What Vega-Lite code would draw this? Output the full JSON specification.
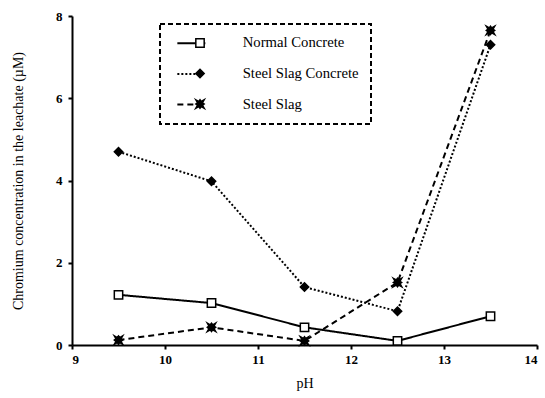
{
  "$schema": "https://vega.github.io/schema/vega-lite/v6.json",
  "autosize": "none",
  "width": 465,
  "height": 329,
  "padding": {"left": 72, "top": 16, "right": 8, "bottom": 53},
  "background": "white",
  "config": {
    "view": {"stroke": null},
    "font": "Liberation Serif",
    "axis": {"grid": false, "domainColor": "black", "domainWidth": 2, "tickColor": "black", "tickWidth": 2, "tickSize": 4, "labelFont": "Liberation Serif", "labelFontWeight": "bold", "labelFontSize": 13, "labelColor": "black", "titleFont": "Liberation Serif", "titleFontWeight": "normal", "titleFontSize": 14, "titleColor": "black"},
    "legend": {"strokeDash": [5, 3], "strokeWidth": 2}
  },
  "data": {"values": [
    {"pH": 9.5, "conc": 1.22, "series": "Normal Concrete"},
    {"pH": 10.5, "conc": 1.02, "series": "Normal Concrete"},
    {"pH": 11.5, "conc": 0.43, "series": "Normal Concrete"},
    {"pH": 12.5, "conc": 0.1, "series": "Normal Concrete"},
    {"pH": 13.5, "conc": 0.7, "series": "Normal Concrete"},
    {"pH": 9.5, "conc": 4.7, "series": "Steel Slag Concrete"},
    {"pH": 10.5, "conc": 3.98, "series": "Steel Slag Concrete"},
    {"pH": 11.5, "conc": 1.41, "series": "Steel Slag Concrete"},
    {"pH": 12.5, "conc": 0.82, "series": "Steel Slag Concrete"},
    {"pH": 13.5, "conc": 7.3, "series": "Steel Slag Concrete"},
    {"pH": 9.5, "conc": 0.12, "series": "Steel Slag"},
    {"pH": 10.5, "conc": 0.43, "series": "Steel Slag"},
    {"pH": 11.5, "conc": 0.1, "series": "Steel Slag"},
    {"pH": 12.5, "conc": 1.52, "series": "Steel Slag"},
    {"pH": 13.5, "conc": 7.65, "series": "Steel Slag"}
  ]},
  "encoding": {
    "x": {"field": "pH", "type": "quantitative", "scale": {"domain": [9, 14], "nice": false, "zero": false}, "axis": {"values": [9, 10, 11, 12, 13, 14], "title": "pH", "titlePadding": 10, "labelPadding": 4}},
    "y": {"field": "conc", "type": "quantitative", "scale": {"domain": [0, 8], "nice": false}, "axis": {"values": [0, 2, 4, 6, 8], "title": "Chromium concentration in the leachate (µM)", "titlePadding": 30, "labelPadding": 6}}
  },
  "layer": [
    {
      "mark": {"type": "line", "color": "black", "strokeWidth": 2},
      "encoding": {
        "strokeDash": {"field": "series", "type": "nominal",
          "scale": {"domain": ["Normal Concrete", "Steel Slag Concrete", "Steel Slag"], "range": [[1, 0], [2, 2], [6, 4]]},
          "legend": {"title": null, "orient": "none", "legendX": 88, "legendY": 8, "padding": 12, "strokeColor": "black",
            "symbolType": "M-3.5,0H3.5", "symbolSize": 64, "symbolStrokeWidth": 2, "symbolStrokeColor": "black",
            "symbolOffset": 12, "labelOffset": 44, "labelFontSize": 14.7, "labelFont": "Liberation Serif", "labelColor": "black", "rowPadding": 14.6}}
      }
    },
    {
      "mark": {"type": "point", "filled": true, "stroke": "black", "strokeWidth": 1.5, "opacity": 1, "size": 70},
      "encoding": {
        "shape": {"field": "series", "type": "nominal",
          "scale": {"range": ["square", "diamond", "M-1,-1L-0.3,-0.6L0,-1L0.3,-0.6L1,-1L0.6,-0.3L1,0L0.6,0.3L1,1L0.3,0.6L0,1L-0.3,0.6L-1,1L-0.6,0.3L-1,0L-0.6,-0.3Z"]},
          "sort": null,
          "legend": {"title": null, "orient": "none", "legendX": 87, "legendY": 9, "padding": 13, "strokeColor": null,
            "symbolSize": 70, "symbolOffset": 23, "labelOffset": 0, "labelExpr": "''", "rowPadding": 14.5}},
        "fill": {"field": "series", "type": "nominal", "sort": null, "scale": {"range": ["white", "black", "black"]},
          "legend": {"title": null, "orient": "none", "legendX": 87, "legendY": 9}}
      }
    }
  ]
}
